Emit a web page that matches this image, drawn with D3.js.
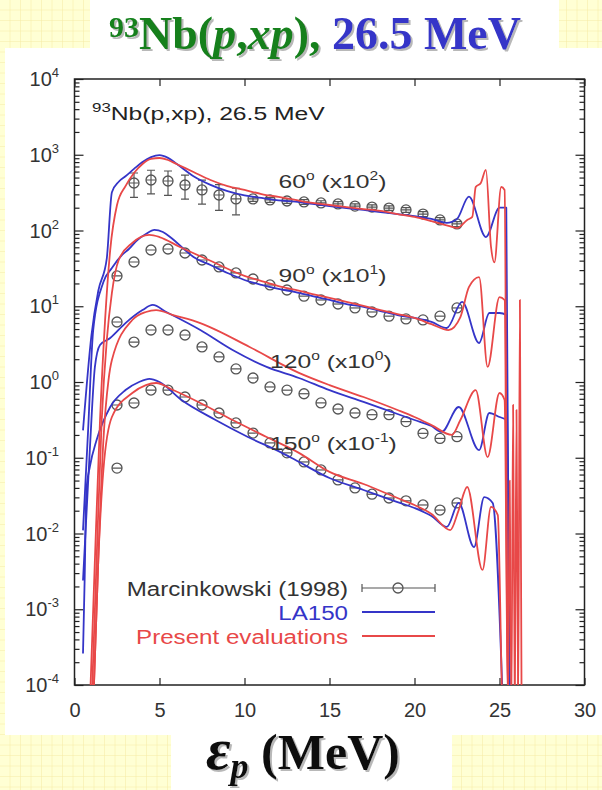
<!DOCTYPE html>
<html>
<head>
<meta charset="utf-8">
<script src="https://cdn.jsdelivr.net/npm/d3@7"></script>
<style>
  body { margin: 0; background: #fff; }
  svg { display: block; }
</style>
</head>
<body>
<div id="chart"></div>
<script>
////////////////////////////////
//   Data
////////////////////////////////
let angles = ["60", "90", "120", "150"];
let scaleExps = ["2", "1", "0", "-1"];
let scaleFactors = [100, 10, 1, 0.1];
let xTicks = [0, 5, 10, 15, 20, 25, 30];
let yExps = [-4, -3, -2, -1, 0, 1, 2, 3, 4];

// Marcinkowski (1998): [E (MeV), d2sigma, error]
let exp60 = [[3.5, 4.24, 1.5], [4.5, 4.64, 1.6], [5.5, 4.5, 1.6], [6.5, 3.99, 1.4], [7.5, 3.43, 1.2],
  [8.5, 2.94, 1.1], [9.5, 2.61, 1.0], [10.5, 2.61, 0.18], [11.5, 2.53, 0.18], [12.5, 2.45, 0.17],
  [13.5, 2.38, 0.17], [14.5, 2.31, 0.16], [15.5, 2.24, 0.16], [16.5, 2.10, 0.15], [17.5, 2.04, 0.14],
  [18.5, 1.98, 0.14], [19.5, 1.87, 0.13], [20.5, 1.65, 0.12], [21.5, 1.38, 0.1], [22.5, 1.22, 0.09]];
let exp90 = [[2.5, 2.51], [3.5, 3.84], [4.5, 5.53], [5.5, 5.70], [6.5, 5.05], [7.5, 4.08], [8.5, 3.30],
  [9.5, 2.75], [10.5, 2.29], [11.5, 1.91], [12.5, 1.64], [13.5, 1.36], [14.5, 1.21], [15.5, 1.07],
  [16.5, 0.95], [17.5, 0.84], [18.5, 0.74], [19.5, 0.68], [20.5, 0.66], [21.5, 0.74], [22.5, 0.95]];
let exp120 = [[2.5, 6.2], [3.5, 3.37], [4.5, 4.86], [5.5, 4.86], [6.5, 4.17], [7.5, 2.90], [8.5, 2.14],
  [9.5, 1.49], [10.5, 1.13], [11.5, 0.86], [12.5, 0.78], [13.5, 0.70], [14.5, 0.53], [15.5, 0.44],
  [16.5, 0.39], [17.5, 0.37], [18.5, 0.37], [19.5, 0.30], [20.5, 0.21], [21.5, 0.18], [22.5, 0.19]];
let exp150 = [[2.5, 0.73], [2.5, 4.97], [3.5, 5.28], [4.5, 7.83], [5.5, 7.83], [6.5, 6.34], [7.5, 4.97],
  [8.5, 3.90], [9.5, 2.88], [10.5, 2.12], [11.5, 1.57], [12.5, 1.16], [13.5, 0.88], [14.5, 0.69],
  [15.5, 0.51], [16.5, 0.40], [17.5, 0.33], [18.5, 0.294], [19.5, 0.27], [20.5, 0.238], [21.5, 0.204],
  [22.5, 0.253]];

// LA150: [E, d2sigma]
let la150_60 = [[0.5, 0.0023], [1.0, 0.042], [1.4, 0.16], [1.9, 0.43], [2.2, 3.2], [2.6, 4.4], [3, 5.2],
  [3.5, 6.5], [4, 8.0], [4.5, 9.3], [5, 9.9], [5.5, 9.1], [6, 7.6], [7, 5.2], [8, 4.0], [9, 3.3],
  [10, 2.9], [11, 2.7], [12, 2.5], [13, 2.4], [14, 2.24], [15, 2.1], [16, 1.98], [17, 1.87], [18, 1.75],
  [19, 1.65], [20, 1.55], [21, 1.42], [21.9, 1.26], [22.5, 1.42], [23.2, 2.8], [24.2, 0.82], [25, 2.0],
  [25.4, 2.0], [25.6, 5e-7]];
let la150_90 = [[0.5, 1.1e-3], [0.8, 0.023], [1.1, 0.485], [1.7, 2.09], [2.2, 3.2], [2.8, 4.75], [3.2, 5.7],
  [3.7, 7.5], [4.2, 9.0], [4.7, 10.2], [5.2, 9.55], [5.7, 7.96], [6.5, 5.53], [7, 4.47], [8, 3.51],
  [9, 2.75], [10, 2.22], [11, 1.91], [12, 1.69], [13, 1.54], [14, 1.36], [15, 1.21], [16, 1.07],
  [17, 0.98], [18, 0.865], [19, 0.766], [20, 0.70], [21, 0.62], [21.9, 0.516], [22.8, 1.14],
  [23.8, 0.327], [24.4, 0.815], [25, 0.815], [25.4, 0.766], [25.6, 5e-6]];
let la150_120 = [[0.5, 2.4e-3], [0.9, 0.126], [1.2, 1.58], [1.5, 3.08], [2.1, 3.81], [3, 6.0], [4, 8.9],
  [4.6, 10.4], [5.4, 8.4], [7.4, 4.85], [9.3, 2.64], [11.3, 1.58], [13.2, 1.13], [15, 0.78], [17, 0.545],
  [19, 0.378], [20, 0.315], [21, 0.262], [21.6, 0.219], [22.6, 0.468], [23.8, 0.126], [24.4, 0.39],
  [25, 0.345], [25.4, 0.315], [25.6, 5e-5]];
let la150_150 = [[0.5, 2.6e-3], [0.6, 0.0267], [0.7, 0.375], [0.9, 0.755], [1.3, 1.71], [2.1, 4.68],
  [3.0, 7.83], [3.8, 10.0], [4.4, 11.0], [5.0, 10.0], [6.3, 5.78], [8.3, 3.15], [10.2, 1.88], [12.2, 1.16],
  [13, 0.933], [15, 0.54], [17, 0.375], [19, 0.26], [20, 0.217], [21, 0.17], [21.9, 0.122], [22.6, 0.253],
  [23.5, 0.066], [24.1, 0.303], [24.6, 0.253], [25.2, 5e-4]];

// Present evaluations: [E, d2sigma]
let eval_60 = [[0.9, 5e-7], [1.2, 4.5e-5], [1.5, 3.1e-3], [1.8, 0.066], [2.1, 0.55], [2.5, 2.17], [3, 3.86],
  [3.5, 5.74], [4, 7.55], [4.5, 8.79], [5, 9.06], [5.5, 8.53], [6, 7.55], [7, 5.92], [8, 4.64], [9, 3.86],
  [10, 3.43], [11, 3.03], [12, 2.77], [13, 2.53], [14, 2.31], [15, 2.17], [16, 2.04], [17, 1.92],
  [18, 1.81], [19, 1.65], [20, 1.51], [21, 1.33], [22, 1.15], [22.5, 1.08], [23.1, 1.38], [23.4, 1.51],
  [23.6, 3.75], [23.9, 4.24], [24.2, 6.3], [24.5, 0.61], [24.7, 0.38], [25.1, 3.75], [25.3, 3.43],
  [25.5, 5e-7], [26.1, 5e-7], [26.2, 0.121], [26.3, 5e-7]];
let eval_90 = [[1.0, 5e-6], [1.3, 4.5e-4], [1.6, 0.031], [1.9, 0.358], [2.2, 1.5], [2.6, 4.08], [3.4, 6.84],
  [4.4, 8.73], [5, 8.2], [6.2, 6.05], [7.9, 4.08], [10, 2.51], [11, 2.15], [12, 1.85], [13, 1.64],
  [14, 1.45], [15, 1.29], [16, 1.14], [17, 1.01], [18, 0.89], [19, 0.79], [20, 0.70], [21, 0.58],
  [22, 0.485], [22.7, 0.72], [23.2, 1.79], [23.8, 2.43], [24.3, 0.158], [25, 1.32], [25.3, 1.21],
  [25.5, 5e-6], [25.7, 5e-6], [25.8, 0.05], [25.9, 5e-6]];
let eval_120 = [[1.1, 5e-5], [1.4, 4.5e-3], [1.7, 0.171], [2.0, 1.06], [2.2, 1.95], [3.4, 6.58], [4.2, 8.4],
  [4.8, 8.9], [5.8, 7.66], [7.4, 6.0], [10.3, 2.9], [13.2, 1.32], [15, 0.91], [17, 0.634], [19, 0.427],
  [20, 0.345], [21, 0.27], [22.2, 0.20], [22.7, 0.315], [23.6, 0.78], [24.3, 0.102], [25, 0.716],
  [25.3, 0.578], [25.5, 5e-5], [25.9, 5e-5], [26.0, 0.427], [26.1, 5e-5]];
let eval_150 = [[1.1, 5e-4], [1.4, 0.045], [1.7, 0.69], [2.2, 3.45], [3.4, 7.16], [4.2, 9.12], [4.8, 9.7],
  [5.8, 7.83], [7.4, 5.28], [9.3, 3.15], [11.3, 1.88], [13.2, 1.16], [15, 0.65], [17, 0.45], [19, 0.294],
  [20, 0.238], [21, 0.181], [22.1, 0.111], [22.6, 0.204], [23.1, 0.411], [24.0, 0.033], [24.5, 0.224],
  [24.9, 0.175], [25.2, 5e-4], [25.5, 5e-4], [25.6, 0.5], [25.7, 5e-4]];

let expSets = [exp60, exp90, exp120, exp150];
let la150Sets = [la150_60, la150_90, la150_120, la150_150];
let evalSets = [eval_60, eval_90, eval_120, eval_150];

// where the angle labels sit, in plot units
let labelAnchors = [[12, 364], [12, 21], [11.5, 1.53], [11.5, 0.126]];

let width = 602;
let height = 790;
let blue = "#3535c8";
let red = "#e84848";
let plotFont = "'Liberation Sans', Arial, sans-serif";
let serif = "'Liberation Serif', 'Times New Roman', serif";

/////////////////////////////
//   Page background
/////////////////////////////
let svg = d3.select("#chart")
  .append("svg")
  .attr("width", width)
  .attr("height", height);

let defs = svg.append("defs");
let pat = defs.append("pattern")
  .attr("id", "grid")
  .attr("width", 10.5).attr("height", 10.5)
  .attr("patternUnits", "userSpaceOnUse");
pat.append("rect").attr("width", 10.5).attr("height", 10.5).attr("fill", "#ffffd4");
pat.append("path").attr("d", "M10.5 0V10.5M0 10.5H10.5")
  .attr("stroke", "#f6eba4").attr("stroke-width", 1).attr("fill", "none");

defs.append("filter").attr("id", "shadow")
  .attr("x", "-10%").attr("y", "-10%").attr("width", "120%").attr("height", "130%")
  .append("feDropShadow")
  .attr("dx", 2).attr("dy", 2).attr("stdDeviation", 0.6)
  .attr("flood-color", "#888").attr("flood-opacity", 0.6);

svg.append("rect").attr("width", width).attr("height", height).attr("fill", "url(#grid)");
svg.append("rect").attr("x", 90).attr("y", 0).attr("width", 469).attr("height", 49).attr("fill", "#fff");
svg.append("rect").attr("x", 5).attr("y", 48).attr("width", 597).attr("height", 687).attr("fill", "#fff");
svg.append("rect").attr("x", 171).attr("y", 734).attr("width", 281).attr("height", 56).attr("fill", "#fff");

/////////////////////////////
//   Scales and axes
/////////////////////////////
let x = d3.scaleLinear().domain([0, 30]).range([74.5, 584.5]);
let y = d3.scaleLog().domain([1e-4, 1e4]).range([685, 79]);

let minorTicks = [];
for (let e = -4; e < 4; e++) {
  for (let m = 2; m <= 9; m++) { minorTicks.push(m * Math.pow(10, e)); }
}
let majorTicks = yExps.map(e => Math.pow(10, e));

function styleAxis(g) {
  g.select(".domain").remove();
  g.selectAll(".tick line").attr("stroke", "#222").attr("stroke-width", 1.2);
}

svg.append("g").attr("transform", "translate(74.5,0)")
  .call(d3.axisLeft(y).tickValues(majorTicks).tickSizeInner(-9).tickSizeOuter(0).tickFormat(""))
  .call(styleAxis);
svg.append("g").attr("transform", "translate(74.5,0)")
  .call(d3.axisLeft(y).tickValues(minorTicks).tickSizeInner(-5).tickSizeOuter(0).tickFormat(""))
  .call(styleAxis);
svg.append("g").attr("transform", "translate(584.5,0)")
  .call(d3.axisRight(y).tickValues(majorTicks).tickSizeInner(-9).tickSizeOuter(0).tickFormat(""))
  .call(styleAxis);
svg.append("g").attr("transform", "translate(584.5,0)")
  .call(d3.axisRight(y).tickValues(minorTicks).tickSizeInner(-5).tickSizeOuter(0).tickFormat(""))
  .call(styleAxis);
svg.append("g").attr("transform", "translate(0,79)")
  .call(d3.axisTop(x).tickValues(xTicks).tickSizeInner(-7).tickSizeOuter(0).tickFormat(""))
  .call(styleAxis);

let xAxis = svg.append("g").attr("transform", "translate(0,685)")
  .call(d3.axisBottom(x).tickValues(xTicks).tickSizeInner(-7).tickSizeOuter(0).tickPadding(18))
  .call(styleAxis);
xAxis.selectAll("text")
  .attr("font-family", plotFont).attr("font-size", 20).attr("fill", "#333");

yExps.forEach(function(e) {
  let t = svg.append("text")
    .attr("x", 59).attr("y", y(Math.pow(10, e)) + 7)
    .attr("text-anchor", "end")
    .attr("font-family", plotFont).attr("font-size", 20).attr("fill", "#333");
  t.append("tspan").text("10");
  t.append("tspan").attr("font-size", 13).attr("dy", -9).text(e);
});

svg.append("rect")
  .attr("x", 74.5).attr("y", 79).attr("width", 510).attr("height", 606)
  .attr("fill", "none").attr("stroke", "#222").attr("stroke-width", 1.5);

defs.append("clipPath").attr("id", "plotclip")
  .append("rect").attr("x", 74.5).attr("y", 79).attr("width", 510).attr("height", 606);

///////////////////////////
//   Experimental points
///////////////////////////
let plot = svg.append("g").attr("clip-path", "url(#plotclip)");
let markColor = "#555";

expSets.forEach(function(set, i) {
  let f = scaleFactors[i];
  let g = plot.append("g");
  set.forEach(function(d) {
    let cx = x(d[0]), cy = y(d[1] * f);
    if (d[2]) {
      let top = y((d[1] + d[2]) * f), bot = y((d[1] - d[2]) * f);
      g.append("line").attr("x1", cx).attr("x2", cx).attr("y1", top).attr("y2", bot)
        .attr("stroke", markColor).attr("stroke-width", 1.2);
      [top, bot].forEach(function(yy) {
        g.append("line").attr("x1", cx - 4).attr("x2", cx + 4).attr("y1", yy).attr("y2", yy)
          .attr("stroke", markColor).attr("stroke-width", 1.2);
      });
    }
    g.append("circle").attr("cx", cx).attr("cy", cy).attr("r", 5)
      .attr("fill", "none").attr("stroke", markColor).attr("stroke-width", 1.3);
    g.append("line").attr("x1", cx - 5).attr("x2", cx + 5).attr("y1", cy).attr("y2", cy)
      .attr("stroke", markColor).attr("stroke-width", 1.2);
  });
});

///////////////////////////
//   Calculated curves
///////////////////////////
function drawCurves(sets, color) {
  sets.forEach(function(set, i) {
    let f = scaleFactors[i];
    let line = d3.line()
      .x(d => x(d[0]))
      .y(d => y(d[1] * f))
      .curve(d3.curveMonotoneX);
    plot.append("path")
      .datum(set)
      .attr("d", line)
      .attr("fill", "none")
      .attr("stroke", color)
      .attr("stroke-width", 1.8)
      .attr("stroke-linejoin", "round");
  });
}
drawCurves(la150Sets, blue);
drawCurves(evalSets, red);

////////////////////
//   Annotations
////////////////////
function stretched(px, py, sx) {
  return svg.append("text")
    .attr("transform", "translate(" + px + "," + py + ") scale(" + sx + ",1)")
    .attr("font-family", plotFont);
}

let inner = stretched(92, 120, 1.3).attr("fill", "#222");
inner.append("tspan").attr("font-size", 13).attr("dy", -8).text("93");
inner.append("tspan").attr("font-size", 19).attr("dy", 8).text("Nb(p,xp), 26.5 MeV");

angles.forEach(function(a, i) {
  let px = x(labelAnchors[i][0]), py = y(labelAnchors[i][1]);
  let t = stretched(px, py, 1.3).attr("fill", "#333").attr("font-size", 19);
  t.append("tspan").text(a);
  t.append("tspan").attr("font-size", 12).attr("dy", -8).text("o");
  t.append("tspan").attr("dy", 8).text(" (x10");
  t.append("tspan").attr("font-size", 12).attr("dy", -8).text(scaleExps[i]);
  t.append("tspan").attr("dy", 8).text(")");
});

////////////////////
//   Legend
////////////////////
let legendNames = ["Marcinkowski (1998)", "LA150", "Present evaluations"];
let legendColors = ["#333", blue, red];
legendNames.forEach(function(name, i) {
  let ly = 588 + i * 24;
  stretched(348, ly + 8, 1.15)
    .attr("text-anchor", "end").attr("font-size", 21)
    .attr("fill", legendColors[i]).text(name);
  if (i == 0) {
    svg.append("line").attr("x1", 362).attr("x2", 435).attr("y1", ly).attr("y2", ly)
      .attr("stroke", markColor).attr("stroke-width", 1.2);
    [362, 435].forEach(function(xx) {
      svg.append("line").attr("x1", xx).attr("x2", xx).attr("y1", ly - 4).attr("y2", ly + 4)
        .attr("stroke", markColor).attr("stroke-width", 1.2);
    });
    svg.append("circle").attr("cx", 398).attr("cy", ly).attr("r", 5)
      .attr("fill", "#fff").attr("stroke", markColor).attr("stroke-width", 1.3);
    svg.append("line").attr("x1", 393).attr("x2", 403).attr("y1", ly).attr("y2", ly)
      .attr("stroke", markColor).attr("stroke-width", 1.2);
  } else {
    svg.append("line").attr("x1", 362).attr("x2", 435).attr("y1", ly).attr("y2", ly)
      .attr("stroke", legendColors[i]).attr("stroke-width", 1.8);
  }
});

////////////////////
//   Slide title and axis label
////////////////////
let title = svg.append("text")
  .attr("x", 109).attr("y", 49)
  .attr("font-family", serif).attr("font-weight", "bold").attr("font-size", 46)
  .attr("fill", "#12801a")
  .attr("filter", "url(#shadow)");
title.append("tspan").attr("font-size", 30).attr("dy", -12).text("93");
title.append("tspan").attr("dy", 12).text("Nb(");
title.append("tspan").attr("font-style", "italic").text("p");
title.append("tspan").text(",");
title.append("tspan").attr("font-style", "italic").text("xp");
title.append("tspan").text("),");
title.append("tspan").attr("fill", "#3434c8").text(" 26.5 MeV");

let xLabel = svg.append("text")
  .attr("x", 206).attr("y", 769)
  .attr("font-family", serif).attr("font-weight", "bold")
  .attr("fill", "#111")
  .attr("filter", "url(#shadow)");
xLabel.append("tspan").attr("font-style", "italic").attr("font-size", 60).text("ε");
xLabel.append("tspan").attr("font-style", "italic").attr("font-size", 36).attr("dy", 9).text("p");
xLabel.append("tspan").attr("font-size", 50).attr("dy", -9).text(" (MeV)");
</script>
</body>
</html>
